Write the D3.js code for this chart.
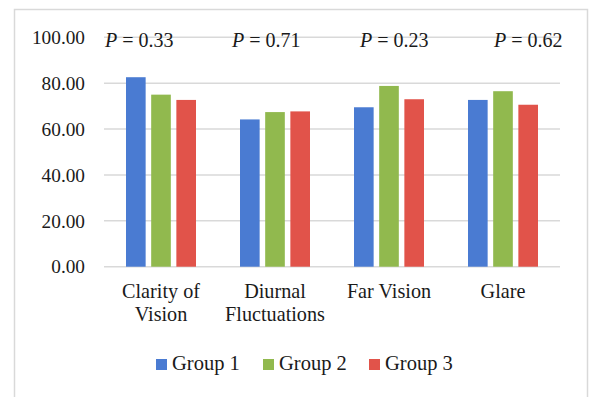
<!DOCTYPE html>
<html>
<head>
<meta charset="utf-8">
<script src="https://cdn.jsdelivr.net/npm/d3@7"></script>
<style>
  html, body { margin: 0; padding: 0; background: #fff; }
  svg { display: block; }
  text { font-family: "Liberation Serif", "Times New Roman", Times, "DejaVu Serif", serif; fill: #1a1a1a; }
</style>
</head>
<body>
<svg id="chart" width="589" height="397"></svg>
<script>
// Mean scores per questionnaire item, by group
const categories = [["Clarity of", "Vision"], ["Diurnal", "Fluctuations"], ["Far Vision"], ["Glare"]];
const seriesNames = ["Group 1", "Group 2", "Group 3"];
const group1 = [82.6, 64.2, 69.5, 72.7];
const group2 = [75.0, 67.4, 78.8, 76.5];
const group3 = [72.7, 67.7, 73.0, 70.6];
const pValues = ["0.33", "0.71", "0.23", "0.62"];
const yTicks = [0, 20, 40, 60, 80, 100];

const colors = ["#4A7BD2", "#91B94E", "#E1534A"];
const series = [group1, group2, group3];

const svg = d3.select("#chart");

// outer frame
svg.append("rect")
  .attr("x", 14.5).attr("y", 9.5)
  .attr("width", 573).attr("height", 400)
  .attr("fill", "none").attr("stroke", "#d9d9d9").attr("stroke-width", 1.5);

const plot = { left: 104, right: 560, top: 37.3, bottom: 266.7 };

const x = d3.scaleBand()
  .domain(d3.range(categories.length))
  .range([plot.left, plot.right])
  .paddingInner(0).paddingOuter(0);

const xInner = d3.scaleBand()
  .domain(d3.range(seriesNames.length))
  .range([0, 70])
  .paddingInner(0.22);

const y = d3.scaleLinear().domain([0, 100]).range([plot.bottom, plot.top]);

// gridlines
svg.append("g")
  .selectAll("line")
  .data(yTicks)
  .join("line")
  .attr("x1", plot.left).attr("x2", plot.right)
  .attr("y1", d => y(d)).attr("y2", d => y(d))
  .attr("stroke", "#d9d9d9").attr("stroke-width", 1.5);

// y tick labels
const yAxis = d3.axisLeft(y).tickValues(yTicks).tickFormat(d3.format(".2f")).tickSize(0).tickPadding(0);
const gy = svg.append("g").attr("transform", "translate(85,0)").call(yAxis);
gy.attr("font-family", null).attr("font-size", null);
gy.select(".domain").remove();
gy.selectAll("text")
  .style("font-size", "19.3px")
  .attr("fill", "#1a1a1a")
  .attr("dy", "0.32em");

// bars
const groupOffset = (x.bandwidth() - 70) / 2;
const gBars = svg.append("g");
series.forEach((vals, si) => {
  gBars.selectAll(null)
    .data(vals)
    .join("rect")
    .attr("x", (d, i) => x(i) + groupOffset + xInner(si))
    .attr("width", xInner.bandwidth())
    .attr("y", d => y(d))
    .attr("height", d => y(0) - y(d))
    .attr("fill", colors[si]);
});

// category labels
const gx = svg.append("g");
categories.forEach((lines, i) => {
  const t = gx.append("text")
    .attr("x", x(i) + x.bandwidth() / 2)
    .attr("y", 298)
    .attr("text-anchor", "middle")
    .style("font-size", "20.2px");
  lines.forEach((ln, k) => {
    t.append("tspan")
      .attr("x", x(i) + x.bandwidth() / 2)
      .attr("dy", k === 0 ? 0 : 23)
      .text(ln);
  });
});

// p-value annotations (left anchored text boxes)
const pLeft = [105, 232, 360, 494];
pValues.forEach((p, i) => {
  const t = svg.append("text")
    .attr("x", pLeft[i]).attr("y", 47)
    .style("font-size", "20px");
  t.append("tspan").style("font-style", "italic").text("P");
  t.append("tspan").text(" = " + p);
});

// legend
const legendX = [156, 263, 369];
const lg = svg.append("g");
seriesNames.forEach((name, i) => {
  lg.append("rect")
    .attr("x", legendX[i]).attr("y", 359)
    .attr("width", 11).attr("height", 11)
    .attr("fill", colors[i]);
  lg.append("text")
    .attr("x", legendX[i] + 16).attr("y", 369.5)
    .style("font-size", "20.5px")
    .text(name);
});
</script>
</body>
</html>
